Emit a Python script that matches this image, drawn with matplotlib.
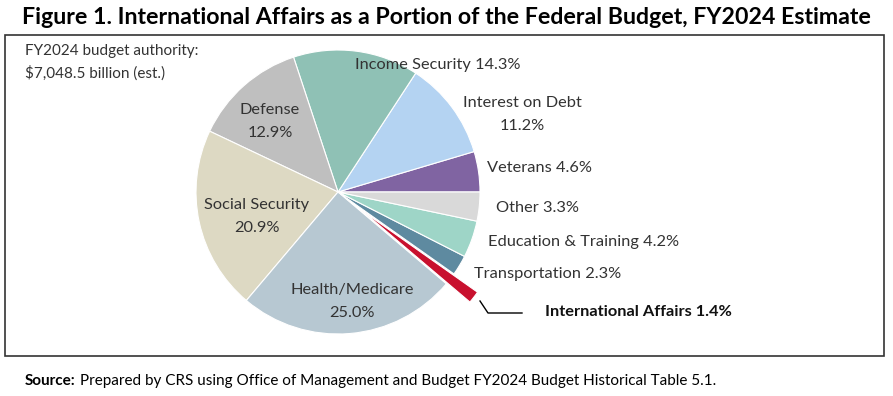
import matplotlib
matplotlib.use("Agg")
from matplotlib import pyplot as plt
from matplotlib.patches import Rectangle

# budget shares, counterclockwise from 3 o'clock
categories = [
    "Veterans", "Interest on Debt", "Income Security", "Defense",
    "Social Security", "Health/Medicare", "International Affairs",
    "Transportation", "Education & Training", "Other",
]
shares = [4.6, 11.2, 14.3, 12.9, 20.9, 25.0, 1.4, 2.3, 4.2, 3.3]
colors = [
    "#8064A2", "#B4D3F2", "#8FC1B5", "#BFBFBF", "#DDD9C3",
    "#B7C8D2", "#C8102E", "#5E8AA0", "#9ED5C7", "#D9D9D9",
]

W, H = 893, 396
fig = plt.figure(figsize=(W / 100, H / 100), dpi=100)
ax = fig.add_axes([0, 0, 1, 1])

cx, cy, r = 338, H - 192, 142
# pie explode is in data units here, so scale by the radius
explode = [0.21 * r if c == "International Affairs" else 0 for c in categories]
ax.pie(shares, colors=colors, explode=explode, startangle=0, counterclock=True,
       center=(cx, cy), radius=r,
       wedgeprops=dict(edgecolor="white", linewidth=0.8))
ax.set_xlim(0, W)
ax.set_ylim(0, H)
ax.set_aspect("auto")
ax.axis("off")

# frame
ax.add_patch(Rectangle((5, H - 356), 879, 321, fill=False, edgecolor="#333333", linewidth=1.2))

lab = dict(fontfamily="Lato", fontsize=11.8, color="#333333")

def txt(x, y, s, ha="center", **kw):
    opts = dict(lab)
    opts.update(kw)
    ax.text(x, H - y, s, ha=ha, va="center", **opts)

txt(25, 51, "FY2024 budget authority:", ha="left", fontsize=11)
txt(25, 73, "$7,048.5 billion (est.)", ha="left", fontsize=11)

lbl = {c: f"{c} {v:.1f}%" for c, v in zip(categories, shares)}
txt(438, 65, lbl["Income Security"])
txt(522, 103, "Interest on Debt")
txt(522, 126, f"{shares[1]:.1f}%")
txt(487, 168, lbl["Veterans"], ha="left")
txt(496, 208, lbl["Other"], ha="left")
txt(488, 242, lbl["Education & Training"], ha="left")
txt(474, 274, lbl["Transportation"], ha="left")
txt(270, 110, "Defense")
txt(270, 133, f"{shares[3]:.1f}%")
txt(257, 205, "Social Security")
txt(257, 228, f"{shares[4]:.1f}%")
txt(352, 290, "Health/Medicare")
txt(352, 313, f"{shares[5]:.1f}%")
txt(545, 312, lbl["International Affairs"], ha="left", fontweight="bold", color="#111111")

# leader line for International Affairs
ax.plot([480, 488, 522], [H - 301, H - 313, H - 313], color="black", linewidth=1)

fig.text(446 / W, 1 - 17 / H,
         "Figure 1. International Affairs as a Portion of the Federal Budget, FY2024 Estimate",
         ha="center", va="center", fontfamily="Lato", fontweight="bold", fontsize=16.7, color="black")

fig.text(25 / W, 1 - 381 / H, "Source:", ha="left", va="center",
         fontfamily="Lato", fontweight="bold", fontsize=11)
fig.text(80 / W, 1 - 381 / H,
         "Prepared by CRS using Office of Management and Budget FY2024 Budget Historical Table 5.1.",
         ha="left", va="center", fontfamily="Lato", fontsize=11)

fig.savefig("out.png", dpi=100)
